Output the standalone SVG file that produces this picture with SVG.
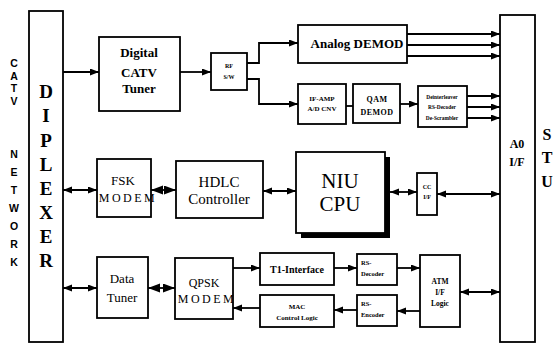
<svg xmlns="http://www.w3.org/2000/svg" width="553" height="344" viewBox="0 0 553 344">
<defs>
<style>
.b{fill:#fff;stroke:#000;stroke-width:1.8}
.l{fill:none;stroke:#000;stroke-width:1.8}
.t{fill:#000;text-anchor:middle}
.bd{font-weight:bold}
.s{font-weight:bold;font-size:10.5px;text-anchor:middle;fill:#000}
</style>
<marker id="a" markerUnits="userSpaceOnUse" markerWidth="10" markerHeight="8" refX="9" refY="3.5" orient="auto-start-reverse"><path d="M0,0 L9,3.5 L0,7 z" fill="#000"/></marker>
<marker id="d" markerUnits="userSpaceOnUse" markerWidth="13" markerHeight="10" refX="12" refY="4.5" orient="auto-start-reverse"><path d="M0,0 L12,4.5 L0,9 z" fill="#000"/></marker>
</defs>
<rect width="553" height="344" fill="#fff"/>

<g id="catv-network" class="s" font-family="'Liberation Sans', sans-serif">
<text x="14" y="67">C</text><text x="14" y="79.5">A</text><text x="14" y="92">T</text><text x="14" y="104.5">V</text>
<text x="14" y="158">N</text><text x="14" y="176">E</text><text x="14" y="194">T</text><text x="14" y="212">W</text><text x="14" y="230">O</text><text x="14" y="248">R</text><text x="14" y="266">K</text>
</g>

<g id="diplexer">
<rect class="b" x="29" y="11" width="34" height="331"/>
<g class="t bd" font-family="'Liberation Serif', serif" font-size="19">
<text x="46" y="98">D</text><text x="46" y="122">I</text><text x="46" y="147">P</text><text x="46" y="171">L</text><text x="46" y="195">E</text><text x="46" y="219">X</text><text x="46" y="243">E</text><text x="46" y="267">R</text>
</g>
</g>

<g id="digital-catv-tuner">
<rect class="b" x="99" y="37" width="81" height="74"/>
<g class="t bd" font-family="'Liberation Serif', serif" font-size="13"><text x="139" y="57">Digital</text><text x="139" y="77">CATV</text><text x="139" y="93">Tuner</text></g>
</g>

<g id="rf-sw">
<rect class="b" x="211" y="53" width="36" height="37"/>
<g class="t bd" font-family="'Liberation Serif', serif" font-size="6"><text x="229" y="68">RF</text><text x="229" y="79">S/W</text></g>
</g>

<g id="analog-demod">
<rect class="b" x="298" y="25" width="109" height="38"/>
<text class="t bd" font-family="'Liberation Serif', serif" font-size="13" x="357" y="48">Analog  DEMOD</text>
</g>

<g id="if-amp">
<rect class="b" x="298" y="84" width="48" height="40"/>
<g class="t bd" font-family="'Liberation Serif', serif" font-size="7"><text x="322" y="101">IF-AMP</text><text x="322" y="111">A/D CNV</text></g>
</g>

<g id="qam-demod">
<rect class="b" x="353" y="84" width="47" height="39"/>
<g class="t bd" font-family="'Liberation Serif', serif" font-size="8" letter-spacing="0.5"><text x="377" y="102">QAM</text><text x="377" y="115">DEMOD</text></g>
</g>

<g id="deinterleaver">
<rect class="b" x="418" y="86" width="49" height="41" stroke-width="2.2"/>
<g class="t bd" font-family="'Liberation Serif', serif" font-size="5.4"><text x="442" y="99">Deinterleaver</text><text x="442" y="109">RS-Decoder</text><text x="442" y="120">De-Scrambler</text></g>
</g>

<g id="a0-if">
<rect class="b" x="500" y="15" width="35" height="327"/>
<g class="t bd" font-family="'Liberation Serif', serif" font-size="12"><text x="517" y="148">A0</text><text x="517" y="166">I/F</text></g>
</g>

<g id="stu">
<g class="t bd" font-family="'Liberation Serif', serif" font-size="16"><text x="547" y="140">S</text><text x="547" y="163">T</text><text x="547" y="187">U</text></g>
</g>

<g id="fsk-modem">
<rect class="b" x="97" y="159" width="54" height="58"/>
<g class="t" font-family="'Liberation Serif', serif">
<text font-size="13" x="123" y="185">FSK</text>
<text font-size="12" x="128" y="202" letter-spacing="2.5">MODEM</text>
</g>
</g>

<g id="hdlc-controller">
<rect class="b" x="176" y="161" width="87" height="57"/>
<g class="t" font-family="'Liberation Serif', serif" font-size="15"><text x="219" y="187">HDLC</text><text x="219" y="204">Controller</text></g>
</g>

<g id="niu-cpu">
<rect x="301" y="157" width="89" height="81" fill="#000"/>
<rect class="b" x="296" y="152" width="89" height="81"/>
<g class="t" font-family="'Liberation Serif', serif" font-size="21"><text x="340" y="188">NIU</text><text x="340" y="211">CPU</text></g>
</g>

<g id="cc-if">
<rect class="b" x="417" y="173" width="20" height="42"/>
<g class="t bd" font-family="'Liberation Serif', serif" font-size="6"><text x="427" y="189">CC</text><text x="427" y="199">I/F</text></g>
</g>

<g id="data-tuner">
<rect class="b" x="97" y="257" width="51" height="61"/>
<g class="t" font-family="'Liberation Serif', serif" font-size="13"><text x="122" y="283">Data</text><text x="122" y="302">Tuner</text></g>
</g>

<g id="qpsk-modem">
<rect class="b" x="175" y="258" width="58" height="61"/>
<g class="t" font-family="'Liberation Serif', serif" font-size="12">
<text x="204" y="287">QPSK</text>
<text x="207" y="303" letter-spacing="2.5">MODEM</text>
</g>
</g>

<g id="t1-interface">
<rect class="b" x="260" y="253" width="74" height="32"/>
<text class="t bd" font-family="'Liberation Serif', serif" font-size="10" x="297" y="273">T1-Interface</text>
</g>

<g id="mac-control-logic">
<rect class="b" x="260" y="295" width="74" height="32"/>
<g class="t bd" font-family="'Liberation Serif', serif" font-size="7"><text x="297" y="309">MAC</text><text x="297" y="320">Control Logic</text></g>
</g>

<g id="rs-decoder">
<rect class="b" x="357" y="254" width="40" height="31"/>
<g class="bd" font-family="'Liberation Serif', serif" font-size="6.5" fill="#000"><text x="361" y="265">RS-</text><text x="361" y="276">Decoder</text></g>
</g>

<g id="rs-encoder">
<rect class="b" x="357" y="295" width="40" height="31"/>
<g class="bd" font-family="'Liberation Serif', serif" font-size="6.5" fill="#000"><text x="361" y="306">RS-</text><text x="361" y="317">Encoder</text></g>
</g>

<g id="atm-if-logic">
<rect class="b" x="420" y="255" width="40" height="72"/>
<g class="t bd" font-family="'Liberation Serif', serif" font-size="7.5"><text x="440" y="284">ATM</text><text x="440" y="295">I/F</text><text x="440" y="306">Logic</text></g>
</g>

<g id="connectors">
<line class="l" x1="63" y1="72" x2="99" y2="72" marker-end="url(#a)"/>
<line class="l" x1="180" y1="72" x2="211" y2="72" marker-end="url(#a)"/>
<polyline class="l" points="247,63 259,63 259,43 298,43" marker-end="url(#a)"/>
<polyline class="l" points="247,79 259,79 259,104 298,104" marker-end="url(#a)"/>
<line class="l" x1="407" y1="34" x2="500" y2="34" marker-end="url(#a)"/>
<line class="l" x1="407" y1="45" x2="500" y2="45" marker-end="url(#a)"/>
<line class="l" x1="407" y1="56" x2="500" y2="56" marker-end="url(#a)"/>
<line class="l" x1="346" y1="106" x2="353" y2="106"/>
<line class="l" x1="400" y1="104" x2="418" y2="104" marker-end="url(#a)"/>
<line class="l" x1="467" y1="96" x2="500" y2="96" marker-end="url(#a)"/>
<line class="l" x1="467" y1="107" x2="500" y2="107" marker-end="url(#a)"/>
<line class="l" x1="467" y1="118" x2="500" y2="118" marker-end="url(#a)"/>
<line class="l" x1="63" y1="190" x2="97" y2="190" marker-start="url(#a)" marker-end="url(#a)"/>
<line class="l" x1="151" y1="190" x2="176" y2="190" stroke-width="2.5" marker-start="url(#d)" marker-end="url(#d)"/>
<line class="l" x1="263" y1="191" x2="296" y2="191" marker-start="url(#a)" marker-end="url(#a)"/>
<line class="l" x1="390" y1="192" x2="417" y2="192" marker-start="url(#a)" marker-end="url(#a)"/>
<line class="l" x1="437" y1="194" x2="500" y2="194" marker-start="url(#a)" marker-end="url(#a)"/>
<line class="l" x1="63" y1="288" x2="97" y2="288" marker-start="url(#a)" marker-end="url(#a)"/>
<line class="l" x1="148" y1="288" x2="175" y2="288" stroke-width="2.5" marker-start="url(#d)" marker-end="url(#d)"/>
<line class="l" x1="233" y1="268" x2="260" y2="268" marker-end="url(#a)"/>
<line class="l" x1="260" y1="308" x2="233" y2="308" marker-end="url(#a)"/>
<line class="l" x1="334" y1="268" x2="357" y2="268" marker-end="url(#a)"/>
<line class="l" x1="397" y1="268" x2="420" y2="268" marker-end="url(#a)"/>
<line class="l" x1="420" y1="311" x2="397" y2="311" marker-end="url(#a)"/>
<line class="l" x1="357" y1="310" x2="334" y2="310" marker-end="url(#a)"/>
<line class="l" x1="460" y1="292" x2="500" y2="292" marker-start="url(#a)" marker-end="url(#a)"/>
</g>
</svg>
